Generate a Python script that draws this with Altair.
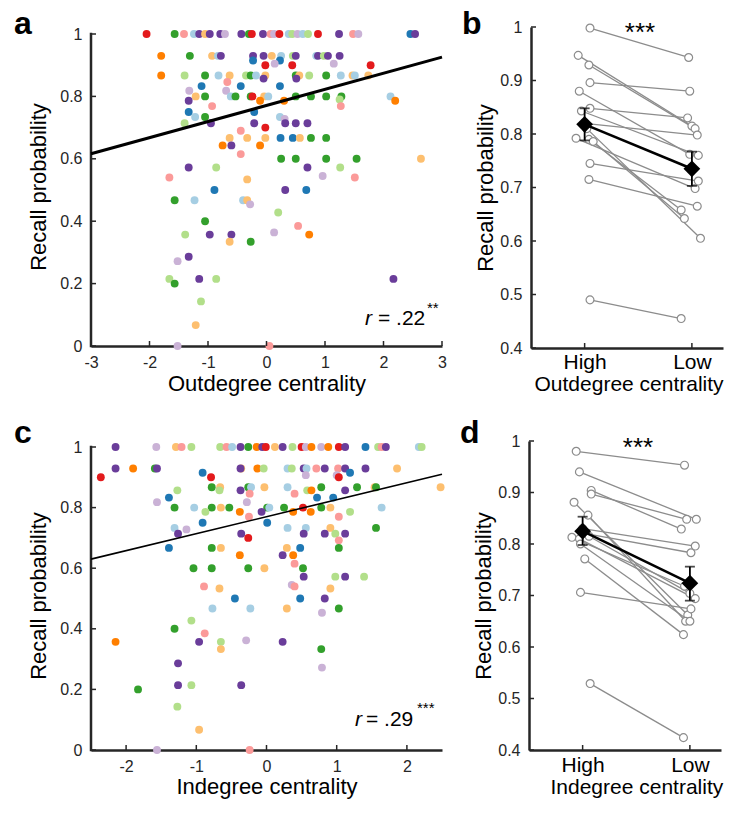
import altair as alt
import pandas as pd

FONT = "Liberation Sans"
AX = "#262626"

CODES = ["lb", "b", "lg", "g", "pk", "r", "lo", "o", "lv", "p"]
COLORS = ["#a6cee3", "#1f78b4", "#b2df8a", "#33a02c", "#fb9a99",
          "#e31a1c", "#fdbf6f", "#ff7f00", "#cab2d6", "#6a3d9a"]

# ---------------- panel a : outdegree centrality vs recall -------------
a_levels = [1.0, 0.93, 0.915, 0.905, 0.90, 0.867, 0.857, 0.846, 0.833, 0.818,
            0.80, 0.79, 0.786, 0.769, 0.75, 0.734, 0.728, 0.714, 0.70, 0.69,
            0.667, 0.643, 0.615, 0.60, 0.572, 0.545, 0.54, 0.534, 0.50, 0.467,
            0.454, 0.428, 0.40, 0.385, 0.364, 0.357, 0.334, 0.286, 0.272, 0.215,
            0.20, 0.143, 0.067, 0.0]
a_x = [
    [-2.05, -1.57, -1.41, -1.24, -1.15, -1.05, -0.97, -0.79, -0.71, -0.43, -0.30, -0.25, -0.06, 0.07,
     0.13, 0.22, 0.38, 0.44, 0.53, 0.62, 0.71, 0.88, 1.24, 1.48, 1.57, 2.46, 2.54],
    [-1.80, -1.31, -0.93, -0.83, -0.78, -0.23, -0.05, 0.09, 0.25, 0.45, 0.50, 0.85, 0.88, 0.98, 1.05, 1.25],
    [-0.23, 0.23],
    [0.14, 1.15],
    [-0.02, 0.44, 1.78],
    [-1.80, -1.40, -1.05, -0.82, -0.63, -0.35, -0.27, -0.18, -0.02, 0.50, 0.56, 0.73, 1.02, 1.27, 1.47, 1.51, 1.74],
    [-0.05, 0.51],
    [-0.67],
    [-1.11, -0.44, 0.23],
    [-1.32, -0.69],
    [-1.21, -1.05, -0.61, -0.53, -0.27, -0.24, -0.04, 0.03, 0.50, 0.76, 1.02, 1.28, 2.12],
    [1.25],
    [-1.33, -0.11, 0.30, 2.20],
    [-0.93, 1.27],
    [-1.33, -0.21],
    [-1.22, -1.05, 0.23],
    [0.31],
    [-1.40, -0.95, -0.21, 0.32, 0.50, 0.70],
    [-0.02],
    [-0.44],
    [-0.63, -0.33, -0.02, 0.24, 0.45, 0.57, 0.76, 1.02],
    [-0.75, -0.60, -0.11],
    [-0.44],
    [0.25, 0.50, 1.02, 1.54, 2.64],
    [-1.33, -0.86, 0.70, 1.26],
    [0.96],
    [-1.66, 1.51],
    [-0.33],
    [-0.89, 0.32, 0.68],
    [-1.57, -1.23, -0.40, -0.33],
    [-0.28],
    [0.20],
    [-1.05],
    [0.54],
    [0.13],
    [-1.39, -0.97, -0.60, 0.73],
    [-0.63, -0.27],
    [-1.33],
    [-1.52],
    [-1.66, -1.15, -0.86, 2.17],
    [-1.57],
    [-1.12],
    [-1.21],
    [-1.52, 0.05],
]
a_c = [
    ["r", "g", "pk", "lb", "p", "lo", "p", "p", "lv", "p", "g", "r", "p", "pk",
     "lv", "r", "lb", "lg", "lv", "lb", "lg", "r", "p", "pk", "lv", "b", "p"],
    ["o", "g", "lo", "lb", "p", "p", "p", "lo", "lb", "lg", "p", "lb", "p", "lg", "p", "p"],
    ["b", "b"],
    ["lv", "lv"],
    ["r", "r", "r"],
    ["o", "lg", "g", "lb", "lo", "lg", "g", "lb", "lo", "g", "lo", "lg", "g", "lb", "lo", "lb", "lo"],
    ["p", "p"],
    ["pk"],
    ["b", "b", "b"],
    ["lv", "lv"],
    ["lo", "g", "lb", "g", "g", "r", "lo", "lb", "g", "g", "g", "g", "lb"],
    ["lg"],
    ["p", "o", "o", "o"],
    ["pk", "pk"],
    ["b", "b"],
    ["lb", "g", "lb"],
    ["lv"],
    ["lg", "p", "p", "p", "p", "p"],
    ["r"],
    ["pk"],
    ["lo", "lo", "lo", "b", "b", "lo", "g", "g"],
    ["o", "p", "o"],
    ["pk"],
    ["g", "g", "g", "g", "lo"],
    ["p", "lg", "p", "lg"],
    ["lv"],
    ["pk", "pk"],
    ["lo"],
    ["b", "p", "b"],
    ["g", "lb", "lb", "lo"],
    ["lv"],
    ["lg"],
    ["g"],
    ["pk"],
    ["lv"],
    ["lg", "p", "p", "o"],
    ["lo", "g"],
    ["p"],
    ["lv"],
    ["lg", "p", "lg", "p"],
    ["g"],
    ["lg"],
    ["lo"],
    ["lv", "pk"],
]
a_fit_x = [-3, 3]
a_fit_y = [0.616, 0.926]

# ---------------- panel c : indegree centrality vs recall --------------
c_levels = [1.0, 0.929, 0.915, 0.907, 0.90, 0.867, 0.857, 0.846, 0.833, 0.818,
            0.80, 0.786, 0.77, 0.75, 0.733, 0.728, 0.714, 0.70, 0.692, 0.667,
            0.643, 0.615, 0.60, 0.572, 0.545, 0.54, 0.533, 0.50, 0.467, 0.453,
            0.427, 0.40, 0.385, 0.362, 0.357, 0.333, 0.286, 0.272, 0.214, 0.20,
            0.143, 0.067, 0.0]
c_x = [
    [-2.15, -1.57, -1.29, -1.21, -1.07, -0.66, -0.57, -0.49, -0.37, -0.26, -0.14, -0.06, -0.01, 0.12,
     0.23, 0.37, 0.50, 0.56, 0.64, 0.78, 0.88, 1.03, 1.12, 1.41, 1.59, 1.64, 1.70, 2.17, 2.21],
    [-2.15, -1.90, -1.59, -1.56, -0.36, -0.37, -0.13, -0.04, 0.30, 0.36, 0.53, 0.57, 0.71, 0.83, 1.02,
     1.12, 1.41, 1.86],
    [-0.91, 1.19],
    [0.56, 1.00],
    [-2.36, -0.79, 1.03],
    [-0.78, -0.66, -0.26, -0.22, -0.03, 0.30, 0.78, 1.29, 1.54, 1.56, 2.48],
    [-1.27, -0.67, -0.37, 0.58, 0.64, 1.12],
    [-0.24, 0.40],
    [-1.39, 0.72, 0.95],
    [-1.56, -0.28],
    [-1.31, -1.03, -0.78, -0.65, -0.53, 0.01, 0.04, 0.25, 0.52, 0.78, 0.91, 1.64],
    [-0.87, -0.38, -0.07, 0.38, 0.63, 1.19],
    [-0.25, 1.03],
    [-0.91, 0.01],
    [-1.31, 0.30, 0.56, 0.91, 1.56],
    [-1.14],
    [-1.26, -0.36, 0.53, 0.83, 0.98, 1.12],
    [-0.26],
    [1.03],
    [-1.39, -0.78, -0.65, 0.29, 0.48, 1.03],
    [-0.38, 0.23, 0.38],
    [0.40],
    [-1.04, -0.78, -0.26, -0.03, 0.52],
    [0.53, 0.98, 1.12, 1.39],
    [0.36],
    [-0.89, 0.40],
    [-0.67, 0.91],
    [-0.45, 0.48, 0.83],
    [-0.77, -0.23, 0.29, 1.03],
    [0.79],
    [-1.07],
    [-1.31],
    [-0.88],
    [-0.29],
    [-2.15, -0.96, -0.65, 0.23],
    [-0.65, 0.78],
    [-1.26],
    [0.79],
    [-1.26, -1.07, -0.36],
    [-1.83],
    [-1.27],
    [-0.96],
    [-1.56, -0.24],
]
c_c = [
    ["p", "lv", "lo", "pk", "lg", "lg", "pk", "lb", "p", "g", "o", "p", "r", "lo",
     "p", "lg", "r", "lv", "o", "lv", "o", "r", "p", "b", "lg", "pk", "p", "lb", "lg"],
    ["p", "o", "g", "p", "lo", "p", "o", "lg", "lb", "lg", "p", "lb", "pk", "p", "pk", "p", "p", "lo"],
    ["b", "b"],
    ["lv", "lv"],
    ["r", "r", "r"],
    ["g", "lo", "g", "lb", "lo", "lb", "g", "g", "lo", "g", "lo"],
    ["lg", "lg", "p", "lg", "o", "p"],
    ["pk", "pk"],
    ["b", "b", "b"],
    ["lv", "lv"],
    ["g", "lb", "g", "lo", "g", "g", "lb", "g", "r", "g", "lo", "lb"],
    ["lg", "o", "p", "o", "o", "lg"],
    ["pk", "pk"],
    ["b", "b"],
    ["lb", "lb", "lb", "lo", "g"],
    ["lv"],
    ["p", "p", "p", "p", "lg", "p"],
    ["r"],
    ["pk"],
    ["b", "g", "lo", "lo", "b", "g"],
    ["o", "p", "o"],
    ["pk"],
    ["g", "g", "g", "lo", "g"],
    ["p", "lg", "p", "lg"],
    ["lv"],
    ["pk", "pk"],
    ["lo", "lo"],
    ["b", "b", "p"],
    ["lb", "lb", "lo", "g"],
    ["lv"],
    ["lg"],
    ["g"],
    ["pk"],
    ["lv"],
    ["o", "p", "lg", "p"],
    ["lo", "g"],
    ["p"],
    ["lv"],
    ["p", "lg", "p"],
    ["g"],
    ["lg"],
    ["lo"],
    ["lv", "pk"],
]
c_fit_x = [-2.5, 2.5]
c_fit_y = [0.630, 0.910]

# ---------------- panel b : high vs low outdegree (per participant) ----
b_high = [0.998, 0.947, 0.929, 0.896, 0.880, 0.848, 0.843, 0.820, 0.810, 0.792, 0.790, 0.786, 0.745, 0.715, 0.490]
b_low = [0.943, 0.815, 0.810, 0.880, 0.762, 0.830, 0.760, 0.798, 0.605, 0.698, 0.658, 0.642, 0.712, 0.665, 0.455]
b_high_jit = [0.05, -0.06, 0.04, 0.05, -0.05, 0.05, -0.03, 0.0, 0.02, -0.08, 0.04, 0.08, 0.05, 0.04, 0.05]
b_low_jit = [-0.03, 0.0, 0.03, -0.02, -0.02, -0.04, 0.06, 0.05, 0.08, 0.03, -0.10, -0.07, 0.06, 0.05, -0.10]
b_mean = [0.818, 0.735]
b_err_lo = [0.788, 0.703]
b_err_hi = [0.848, 0.767]

# ---------------- panel d : high vs low indegree (per participant) -----
d_high = [0.980, 0.940, 0.904, 0.897, 0.881, 0.856, 0.830, 0.820, 0.815, 0.813, 0.810, 0.800, 0.771, 0.706, 0.529]
d_low = [0.953, 0.848, 0.829, 0.848, 0.662, 0.650, 0.796, 0.783, 0.704, 0.718, 0.694, 0.650, 0.624, 0.674, 0.424]
d_high_jit = [-0.06, -0.03, 0.08, 0.08, -0.08, 0.05, 0.0, 0.03, 0.06, -0.10, -0.03, -0.02, 0.02, -0.02, 0.07]
d_low_jit = [-0.05, 0.06, -0.08, -0.03, -0.02, -0.04, 0.05, 0.01, 0.0, -0.05, 0.05, 0.0, -0.06, 0.01, -0.06]
d_mean = [0.825, 0.724]
d_err_lo = [0.798, 0.690]
d_err_hi = [0.853, 0.756]

Y_TICKS_SC = [0, 0.2, 0.4, 0.6, 0.8, 1]
Y_TICKS_PA = [0.4, 0.5, 0.6, 0.7, 0.8, 0.9, 1]


def one(**kw):
    return pd.DataFrame({k: [v] for k, v in kw.items()})


def scatter_panel(levels, xs, cs, xdom, xticks, xtitle, fit_x, fit_y, fit_w, W, H, ytop,
                  letter, let_pos, r_txt, r_stars, r_pos, eq_x, st_pos,
                  lab_pad, title_pad):
    rows = []
    for yv, xl, cl in zip(levels, xs, cs):
        for xv, cv in zip(xl, cl):
            rows.append({"x": xv, "y": yv, "c": cv})
    df = pd.DataFrame(rows)
    xsc = alt.Scale(domain=xdom, nice=False, zero=False)
    ysc = alt.Scale(domain=[0, ytop], nice=False, zero=False)
    X = lambda: alt.X("x:Q", scale=xsc)
    Y = lambda: alt.Y("y:Q", scale=ysc)
    pts = alt.Chart(df).mark_circle(size=62, opacity=1).encode(
        x=alt.X("x:Q", scale=xsc, axis=alt.Axis(
            values=xticks, title=xtitle, labelExpr="'' + datum.value",
            labelFlush=False, labelOverlap=False, labelPadding=lab_pad,
            titlePadding=title_pad)),
        y=alt.Y("y:Q", scale=ysc, axis=alt.Axis(
            values=Y_TICKS_SC, title="Recall probability", labelExpr="'' + datum.value",
            labelFlush=False, labelOverlap=False, labelPadding=9, titlePadding=9,
            domain=False)),
        color=alt.Color("c:N", scale=alt.Scale(domain=CODES, range=COLORS), legend=None),
    )
    yline = alt.Chart(pd.DataFrame({"y": [0], "y2": [1]})).mark_rule(
        color=AX, strokeWidth=2.5, strokeCap="square").encode(
        x=alt.value(0), y=Y(), y2="y2:Q")
    fit = alt.Chart(pd.DataFrame({"x": fit_x, "y": fit_y})).mark_line(
        color="black", strokeWidth=fit_w).encode(x=X(), y=Y())
    xt = alt.Chart(pd.DataFrame({"x": xticks})).mark_rule(color=AX, strokeWidth=1.5).encode(
        x=X(), y=alt.value(H), y2=alt.value(H - 5))
    yt = alt.Chart(pd.DataFrame({"y": Y_TICKS_SC})).mark_rule(color=AX, strokeWidth=1.5).encode(
        y=Y(), x=alt.value(0), x2=alt.value(5))
    let = alt.Chart(one(t=letter)).mark_text(
        font=FONT, fontSize=32, fontWeight="bold", align="left", baseline="alphabetic",
        color="black").encode(x=alt.value(let_pos[0]), y=alt.value(let_pos[1]), text="t:N")
    r1 = alt.Chart(one(t="r")).mark_text(
        font=FONT, fontSize=21, fontStyle="italic", align="left", baseline="alphabetic",
        color="black").encode(x=alt.value(r_pos[0]), y=alt.value(r_pos[1]), text="t:N")
    r2 = alt.Chart(one(t=r_txt)).mark_text(
        font=FONT, fontSize=21, align="left", baseline="alphabetic",
        color="black").encode(x=alt.value(eq_x), y=alt.value(r_pos[1]), text="t:N")
    r3 = alt.Chart(one(t=r_stars)).mark_text(
        font=FONT, fontSize=15, align="left", baseline="alphabetic",
        color="black").encode(x=alt.value(st_pos[0]), y=alt.value(st_pos[1]), text="t:N")
    return alt.layer(pts, yline, fit, xt, yt, let, r1, r2, r3).properties(width=W, height=H)


def paired_panel(high, low, hj, lj, mean, elo, ehi, xtitle, W, xmax, H, letter, let_pos,
                 star_y, lab_pad, title_pad, title_x):
    rows = []
    for i in range(len(high)):
        rows.append({"pid": i, "x": 1 + hj[i], "y": high[i]})
        rows.append({"pid": i, "x": 2 + lj[i], "y": low[i]})
    df = pd.DataFrame(rows)
    mdf = pd.DataFrame({"x": [1, 2], "y": mean, "lo": elo, "hi": ehi})
    xsc = alt.Scale(domain=[0.5, xmax], nice=False, zero=False)
    ysc = alt.Scale(domain=[0.4, 1.0], nice=False, zero=False)
    X = lambda: alt.X("x:Q", scale=xsc)
    Y = lambda: alt.Y("y:Q", scale=ysc)
    xkw = dict(values=[1, 2], title=xtitle, labelExpr="datum.value == 1 ? 'High' : 'Low'",
               labelFontSize=21, labelFlush=False, labelOverlap=False,
               labelPadding=lab_pad, titlePadding=title_pad, labelColor="black",
               titleFontSize=21, titleX=title_x, titleAlign="left", titleAnchor="start")
    lines = alt.Chart(df).mark_line(color="#8c8c8c", strokeWidth=1.3).encode(
        x=alt.X("x:Q", scale=xsc, axis=alt.Axis(**xkw)),
        y=alt.Y("y:Q", scale=ysc, axis=alt.Axis(
            values=Y_TICKS_PA, title="Recall probability", labelExpr="'' + datum.value",
            labelFlush=False, labelOverlap=False, labelPadding=9, titlePadding=2)),
        detail="pid:N",
    )
    dots = alt.Chart(df).mark_point(
        shape="circle", filled=True, fill="white", stroke="#8c8c8c", strokeWidth=1.2,
        size=62, opacity=1).encode(x=X(), y=Y())
    mline = alt.Chart(mdf).mark_line(color="black", strokeWidth=2.6).encode(x=X(), y=Y())
    ebar = alt.Chart(mdf).mark_rule(color="black", strokeWidth=1.8).encode(
        x=X(), y=alt.Y("lo:Q", scale=ysc), y2="hi:Q")
    cap1 = alt.Chart(mdf).mark_tick(color="black", orient="horizontal", size=10, thickness=1.8).encode(
        x=X(), y=alt.Y("lo:Q", scale=ysc))
    cap2 = alt.Chart(mdf).mark_tick(color="black", orient="horizontal", size=10, thickness=1.8).encode(
        x=X(), y=alt.Y("hi:Q", scale=ysc))
    dia = alt.Chart(mdf).mark_point(shape="diamond", filled=True, color="black", size=280, opacity=1).encode(
        x=X(), y=Y())
    xt = alt.Chart(pd.DataFrame({"x": [1, 2]})).mark_rule(color=AX, strokeWidth=1.5).encode(
        x=X(), y=alt.value(H), y2=alt.value(H - 5))
    yt = alt.Chart(pd.DataFrame({"y": Y_TICKS_PA})).mark_rule(color=AX, strokeWidth=1.5).encode(
        y=Y(), x=alt.value(0), x2=alt.value(5))
    let = alt.Chart(one(t=letter)).mark_text(
        font=FONT, fontSize=32, fontWeight="bold", align="left", baseline="alphabetic",
        color="black").encode(x=alt.value(let_pos[0]), y=alt.value(let_pos[1]), text="t:N")
    stars = alt.Chart(one(t="***")).mark_text(
        font=FONT, fontSize=26, align="center", baseline="alphabetic", color="black").encode(
        x=alt.value(109), y=alt.value(star_y), text="t:N")
    return alt.layer(lines, dots, mline, ebar, cap1, cap2, dia, xt, yt, let, stars).properties(
        width=W, height=H)


pa = scatter_panel(a_levels, a_x, a_c, [-3, 3], [-3, -2, -1, 0, 1, 2, 3], "Outdegree centrality",
                   a_fit_x, a_fit_y, 3, 351, 319, 319 / 312, "a", (-77, 7), "= .22", "**",
                   (274, 298), 287, (336, 286), 8, 3)
pb = paired_panel(b_high, b_low, b_high_jit, b_low_jit, b_mean, b_err_lo, b_err_hi,
                  "Outdegree centrality", 192, 2.29, 321, "b", (-69, 7), 14, 3, 1, 3)
pc = scatter_panel(c_levels, c_x, c_c, [-2.5, 2.5], [-2, -1, 0, 1, 2], "Indegree centrality",
                   c_fit_x, c_fit_y, 1.6, 351, 309, 309 / 303, "c", (-77, 2), "= .29", "***",
                   (264, 285), 275, (326, 272), 8, 2)
pd_ = paired_panel(d_high, d_low, d_high_jit, d_low_jit, d_mean, d_err_lo, d_err_hi,
                   "Indegree centrality", 192, 2.29, 309, "d", (-69, 2), 15, 4, 1, 21)

chart = alt.vconcat(
    alt.hconcat(pa, pb, spacing=14),
    alt.hconcat(pc, pd_, spacing=14),
    spacing=23,
).properties(
    padding={"left": 6, "top": 0, "right": 0, "bottom": 3}
).configure_view(stroke=None).configure_axis(
    grid=False, ticks=False, tickSize=0, labelFont=FONT, titleFont=FONT,
    labelColor=AX, titleColor="black", titleFontWeight="normal",
    domainColor=AX, domainWidth=2.5, labelFontSize=16, titleFontSize=22,
).configure_text(font=FONT)

chart.save("out.html", embed_options={"renderer": "svg", "actions": False})
